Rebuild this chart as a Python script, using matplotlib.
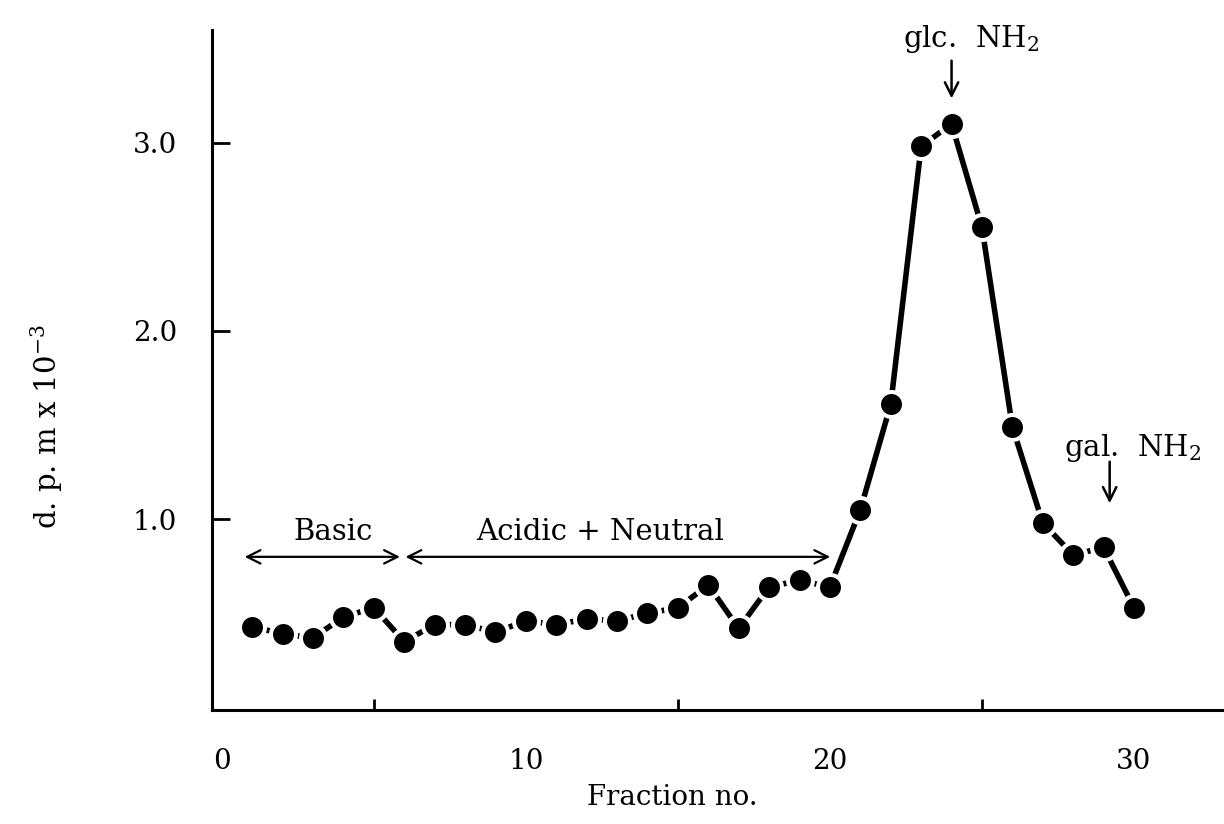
import matplotlib
matplotlib.use("Agg")
import matplotlib.pyplot as plt

plt.rcParams['font.family'] = ['DejaVu Serif']
plt.rcParams['mathtext.fontset'] = 'dejavuserif'

fractions = list(range(1, 31))
dpm = [0.43, 0.39, 0.37, 0.48, 0.53, 0.35, 0.44, 0.44, 0.40, 0.46,
       0.44, 0.47, 0.46, 0.50, 0.53, 0.65, 0.42, 0.64, 0.675, 0.64,
       1.05, 1.61, 2.98, 3.10, 2.55, 1.49, 0.98, 0.81, 0.85, 0.53]

x_label_ticks = [0, 10, 20, 30]
x_mark_ticks = [5, 10, 15, 20, 25, 30]
y_ticks = [1.0, 2.0, 3.0]
y_tick_labels = ["1.0", "2.0", "3.0"]

fig = plt.figure(figsize=(12.24, 8.24), dpi=100)
ax = fig.add_axes([0.173, 0.138, 0.827, 0.826])

ax.plot(fractions, dpm, color='black', lw=4.0, marker='o', ms=18,
        mfc='black', mec='white', mew=2.9, solid_capstyle='butt', zorder=3)

ax.set_xlim(-0.33, 32.96)
ax.set_ylim(-0.015, 3.6)

for s in ['top', 'right']:
    ax.spines[s].set_visible(False)
for s in ['left', 'bottom']:
    ax.spines[s].set_linewidth(2.2)

ax.set_xticks(x_label_ticks)
ax.set_xticklabels([str(v) for v in x_label_ticks])
ax.set_xticks(x_mark_ticks, minor=True)
ax.tick_params(axis='x', which='major', direction='in', length=0, pad=27,
               labelsize=20)
ax.tick_params(axis='x', which='minor', direction='in', length=8, width=2)
ax.set_yticks(y_ticks)
ax.set_yticklabels(y_tick_labels)
ax.tick_params(axis='y', direction='in', length=13, width=2, pad=25,
               labelsize=20)

ax.set_xlabel("Fraction no.", fontsize=20)
ax.xaxis.set_label_coords(0.455, -0.108)
ax.set_ylabel("d. p. m x 10$^{-3}$", fontsize=21)
ax.yaxis.set_label_coords(-0.145, 0.416)

arrow_kw = dict(arrowstyle='<->', color='black', lw=1.6, mutation_scale=24)
ax.annotate('', xy=(0.66, 0.80), xytext=(5.95, 0.80), arrowprops=arrow_kw)
ax.annotate('', xy=(5.95, 0.80), xytext=(20.1, 0.80), arrowprops=arrow_kw)
ax.text(3.65, 0.93, "Basic", ha='center', va='center', fontsize=21)
ax.text(12.45, 0.93, "Acidic + Neutral", ha='center', va='center', fontsize=21)

down_kw = dict(arrowstyle='->', color='black', lw=1.8, mutation_scale=24)
ax.annotate('', xy=(24.0, 3.22), xytext=(24.0, 3.45), arrowprops=down_kw)
ax.text(24.65, 3.55, "glc.  NH$_2$", ha='center', va='center', fontsize=21)
ax.annotate('', xy=(29.2, 1.07), xytext=(29.2, 1.32), arrowprops=down_kw)
ax.text(29.95, 1.38, "gal.  NH$_2$", ha='center', va='center', fontsize=21)

fig.savefig("out.png", dpi=100)
